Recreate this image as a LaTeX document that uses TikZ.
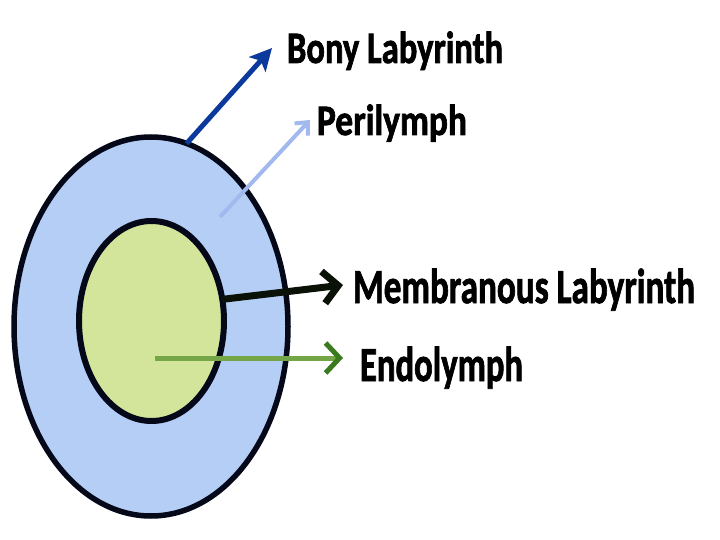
\documentclass[tikz,border=0pt]{standalone}
\usepackage{fontspec}
\setmainfont{Carlito}
\newfontfamily\lblfont[FakeBold=1.8]{Carlito Bold}
\usepackage{graphicx}
\usetikzlibrary{arrows.meta,shapes.geometric}
\definecolor{outerfill}{HTML}{B5CEF5}
\definecolor{innerfill}{HTML}{D3E59A}
\definecolor{outline}{HTML}{040818}
\definecolor{bonyblue}{HTML}{0C3A9C}
\definecolor{periblue}{HTML}{A2B9EF}
\definecolor{membline}{HTML}{0A1208}
\definecolor{endogreen}{HTML}{74A648}
\definecolor{endohead}{HTML}{3B7A1E}
\newcommand{\lbltext}[3]{\resizebox{#1pt}{\height}{\fontsize{#2}{#2}\selectfont\lblfont #3}}
\begin{document}
\begin{tikzpicture}[x=1pt,y=-1pt,
  lbl/.style={inner sep=0pt, outer sep=0pt, anchor=base west, text=black},
  ring/.style={ellipse, draw=outline, inner sep=0pt, outer sep=0pt},
  conn/.style={line cap=butt, line join=miter}]
\fill[white] (0,0) rectangle (720,540);
\useasboundingbox (0,0) rectangle (720,540);
% layers
\node[ring, fill=outerfill, line width=5.5pt, minimum width=274pt, minimum height=379pt] (bony) at (151,326.5) {};
\node[ring, fill=innerfill, line width=6pt, minimum width=145pt, minimum height=200pt] (memb) at (151.5,321) {};
% labels
\node[lbl] (tbony) at (287,63) {\lbltext{216}{45}{Bony Labyrinth}};
\node[lbl] (tperi) at (317,135) {\lbltext{150}{43.5}{Perilymph}};
\node[lbl] (tmemb) at (353,303) {\lbltext{342}{49}{Membranous Labyrinth}};
\node[lbl] (tendo) at (360,381) {\lbltext{163}{49}{Endolymph}};
% arrow ends
\coordinate (pstart) at (220,217);
\coordinate (estart) at (155,358);
\coordinate (btip) at (272,48);
\coordinate (ptip) at (310,120);
\coordinate (mtip) at (343,285);
\coordinate (etip) at (343,358);
% connectors
\draw[conn, bonyblue, line width=5pt, -{Stealth[length=22pt,width=22pt,inset=5pt]}] (bony.79) -- (btip);
\draw[conn, periblue, line width=4pt, -{Straight Barb[length=10pt,width=18pt]}] (pstart) -- (ptip);
\draw[conn, membline, line width=7pt, -{Straight Barb[length=15pt,width=32pt]}] (memb.17) -- (mtip);
\draw[conn, endogreen, line width=5pt, -{Straight Barb[length=14pt,width=30pt,color=endohead]}] (estart) -- (etip);
\end{tikzpicture}
\end{document}
